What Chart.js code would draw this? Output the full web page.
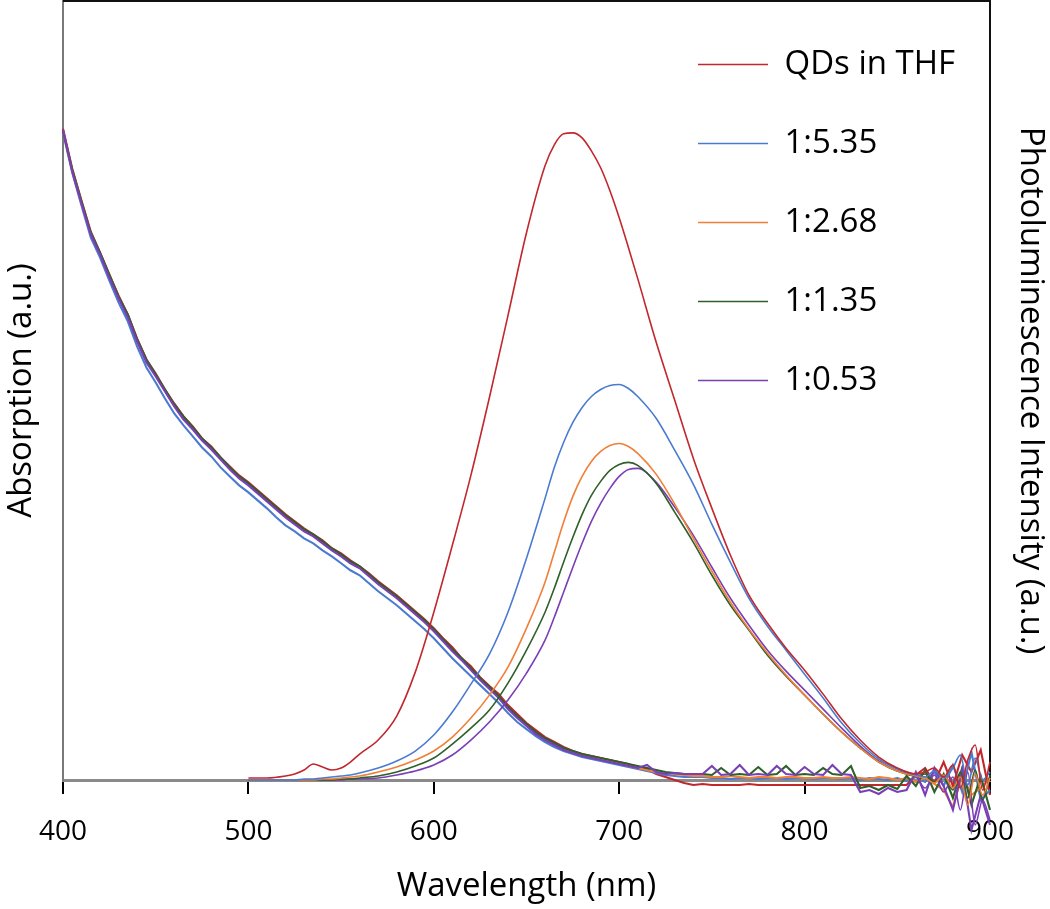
<!DOCTYPE html>
<html>
<head>
<meta charset="utf-8">
<script src="https://cdn.jsdelivr.net/npm/chart.js@4.4.1/dist/chart.umd.min.js"></script>
<style>
  html, body { margin: 0; padding: 0; background: #fff; }
  #wrap { width: 1050px; height: 909px; }
</style>
</head>
<body>
<div id="wrap"><canvas id="myChart"></canvas></div>
<script>
// absorption spectra, sampled every 5 nm from 400 to 900
const absWavelength = Array.from({ length: 101 }, (_, i) => 400 + 5 * i);

const absQD = [652,612,580,549,528,506,485,466,442,421,407,391,377,364,354,342,334,323,314,305,298,290,282,274,266,259,252,246,240,232,227,220,214,207,199,192,185,177,169,161,152,142,133,122,114,103,94,86,75,66,57,50,43,38,33,29,26,24,22,20,18,16,12,11,6,3,0,-3,-5,
  -4,-5,-5,-5,-5,-4,-5,-5,-5,-5,-5,-5,-5,-5,-5,-5,-5,-5,-5,-5,-5,-5,-5,5,12,-3,18,-6,25,8,30,-15];
const abs535 = [648,608,575,543,523,500,478,459,434,413,398,382,367,355,344,333,324,313,304,295,288,280,272,263,255,249,242,237,230,224,217,210,205,197,189,182,175,167,159,151,142,132,122,113,104,95,86,77,67,58,51,44,38,33,29,26,23,21,19,17,15,13,11,9,7,5,4,3,3,
  3,2,2,1,2,2,1,2,2,1,2,2,1,2,2,1,2,0,2,1,0,2,-1,3,-2,8,-6,15,-12,28,-20,-10];
const abs268 = [650,610,578,547,527,505,483,465,440,420,405,390,375,363,352,341,332,322,312,303,296,288,280,272,264,257,250,245,238,231,225,218,213,205,197,190,183,175,167,159,150,140,130,121,111,101,92,83,72,63,55,47,41,36,31,28,25,23,21,19,17,14,12,10,8,7,6,5,4,
  4,3,3,4,3,2,3,3,2,3,3,2,2,3,2,2,3,2,1,3,2,0,2,-2,3,-4,-10,-27,5,-15,-8,2];
const abs135 = [650,611,579,548,528,506,484,466,441,421,406,391,376,364,353,342,333,323,313,304,297,289,281,273,265,258,251,246,239,232,226,219,214,206,198,191,184,176,168,160,151,141,131,122,112,102,93,84,73,64,56,48,42,37,32,29,26,24,22,20,18,16,14,12,10,8,7,6,6,
  6,5,12,5,6,5,13,5,6,14,5,6,5,12,6,5,14,-8,-6,-10,-5,-9,4,-6,10,-12,6,-18,12,-25,4,-30];
const abs053 = [651,609,577,546,526,503,482,463,439,418,404,389,374,361,351,340,331,321,311,302,295,287,279,271,263,256,249,244,237,230,224,217,212,204,196,189,182,174,166,158,149,139,129,120,110,100,91,82,71,62,54,46,40,35,30,27,24,22,20,18,16,14,12,15,8,6,7,6,6,
  6,14,5,6,15,5,6,5,14,6,5,13,6,5,15,6,5,-12,-10,-14,-8,-12,-10,8,-15,12,-6,-30,10,-50,-15,-45];

// photoluminescence spectra
const plWavelength = [500,510,520,525,530,535,540,545,550,555,560,570,580,590,600,610,620,630,640,650,660,665,670,675,680,685,690,695,700,705,710,720,730,740,750,760,770,780,790,800,810,820,830,840,850,860,865,870,875,880,884,888,892,896,900];

const plQD = [2,2,4,6,10,16,13,10,12,18, 26,40,64,108,168,235,305,383,465,548,615, 636,647,648,643,630,613,590,563,533,502, 438,380,322,272,225,185,157,132,110,86,61,40,23,12,6, 8,12,3,15,-8,20,35,-10,18];
const pl535 = [0,0,0,0,1,1,2,3,4,5, 7,12,19,29,45,68,96,126,168,222,282, 313,338,358,373,384,391,395,396,392,384, 362,330,296,256,218,182,154,130,106,82,57,37,21,11,5, 3,9,2,12,25,-5,22,0,8];
const pl268 = [0,0,0,0,0,0,1,1,2,3, 4,8,13,20,29,43,62,85,113,152,198, 228,258,284,304,319,329,335,337,334,327, 306,276,242,209,178,151,127,105,85,66,48,32,18,9,4, 2,-3,5,-8,3,-25,6,-15,2];
const pl135 = [0,0,0,0,0,0,0,0,1,1, 2,4,8,14,22,36,52,70,97,130,168, 192,218,243,266,285,299,310,316,318,315, 297,268,238,205,175,150,125,104,85,66,48,32,18,9,4, 6,-2,4,-10,8,-18,10,-20,5];
const pl053 = [0,0,0,0,0,0,0,0,0,1, 1,2,5,9,15,25,40,58,80,107,140, 163,188,213,237,259,277,292,304,311,312, 298,273,245,213,182,155,130,109,90,71,52,34,19,9,4, -8,5,-12,3,-30,8,-45,-20,-40];

const seriesLabels = ['QDs in THF', '1:5.35', '1:2.68', '1:1.35', '1:0.53'];
const seriesColors = ['#c0282e', '#4a7bd0', '#f07f38', '#2f5f2a', '#7a3fb5'];
const absSeries = [absQD, abs535, abs268, abs135, abs053];
const plSeries = [plQD, pl535, pl268, pl135, pl053];

const FONT = "'Open Sans', 'Noto Sans', sans-serif";

const toPoints = (xs, ys) => xs.map((x, i) => ({ x, y: ys[i] }));

const datasets = [];
seriesLabels.forEach((label, i) => {
    datasets.push({
        label,
        data: toPoints(plWavelength, plSeries[i]),
        yAxisID: 'y2',
        borderColor: seriesColors[i],
        backgroundColor: seriesColors[i],
        borderWidth: 1.6,
        pointRadius: 0,
        cubicInterpolationMode: 'monotone',
        clip: false,
        order: i
    });
});
seriesLabels.forEach((label, i) => {
    datasets.push({
        label: label + ' absorption',
        data: toPoints(absWavelength, absSeries[i]),
        yAxisID: 'y',
        borderColor: seriesColors[i],
        backgroundColor: seriesColors[i],
        borderWidth: 2.1,
        pointRadius: 0,
        clip: false,
        order: 10 - i
    });
});

// top edge of the plot box + move legend into the upper right of the plot
const frame = {
    id: 'frame',
    afterLayout(chart) {
        const lg = chart.legend;
        const w = lg.right - lg.left;
        lg.left = 652; lg.right = 652 + w;
        lg.top = 2; lg.bottom = 2 + lg.height;
    },
    afterDraw(chart) {
        const { ctx, chartArea: a } = chart;
        ctx.save();
        ctx.strokeStyle = '#111';
        ctx.lineWidth = 2;
        ctx.beginPath();
        ctx.moveTo(a.left, a.top);
        ctx.lineTo(a.right, a.top);
        ctx.stroke();
        ctx.restore();
    }
};

new Chart(document.getElementById('myChart'), {
    type: 'line',
    data: { datasets },
    options: {
        responsive: true,
        maintainAspectRatio: false,
        animation: false,
        layout: { padding: { top: 1, left: 0, right: 0, bottom: 0 } },
        scales: {
            x: {
                type: 'linear',
                min: 400,
                max: 900,
                ticks: { stepSize: 100, color: '#000', padding: 21, font: { family: FONT, size: 28 } },
                grid: { display: true, drawOnChartArea: false, drawTicks: true, tickLength: 14, color: '#000', lineWidth: 2 },
                border: { display: true, color: '#8a8a8a', width: 3 },
                title: { display: true, text: 'Wavelength (nm)', color: '#000', padding: { top: 0, bottom: 3 }, font: { family: FONT, size: 33, lineHeight: 1.2 } },
                afterFit: (s) => { s.height = 129; }
            },
            y: {
                type: 'linear',
                position: 'left',
                min: 0,
                max: 780,
                ticks: { display: false },
                grid: { display: false },
                border: { display: true, color: '#7a7a7a', width: 2 },
                title: { display: true, text: 'Absorption (a.u.)', color: '#000', padding: { top: 2, bottom: 0 }, font: { family: FONT, size: 33, lineHeight: 1.2 } },
                afterFit: (s) => { s.width = 63; }
            },
            y2: {
                type: 'linear',
                position: 'right',
                min: 0,
                max: 780,
                ticks: { display: false },
                grid: { display: false },
                border: { display: true, color: '#111', width: 2 },
                title: { display: true, text: 'Photoluminescence Intensity (a.u.)', color: '#000', padding: { top: 0, bottom: 0 }, font: { family: FONT, size: 33, lineHeight: 1.2 } },
                afterFit: (s) => { s.width = 60; }
            }
        },
        plugins: {
            legend: {
                display: true,
                position: 'chartArea',
                align: 'start',
                labels: {
                    color: '#000',
                    font: { family: FONT, size: 33 },
                    usePointStyle: true,
                    pointStyle: 'line',
                    pointStyleWidth: 70,
                    padding: 46,
                    filter: (item) => item.datasetIndex < 5
                }
            },
            tooltip: { enabled: false }
        }
    },
    plugins: [frame]
});
</script>
</body>
</html>
